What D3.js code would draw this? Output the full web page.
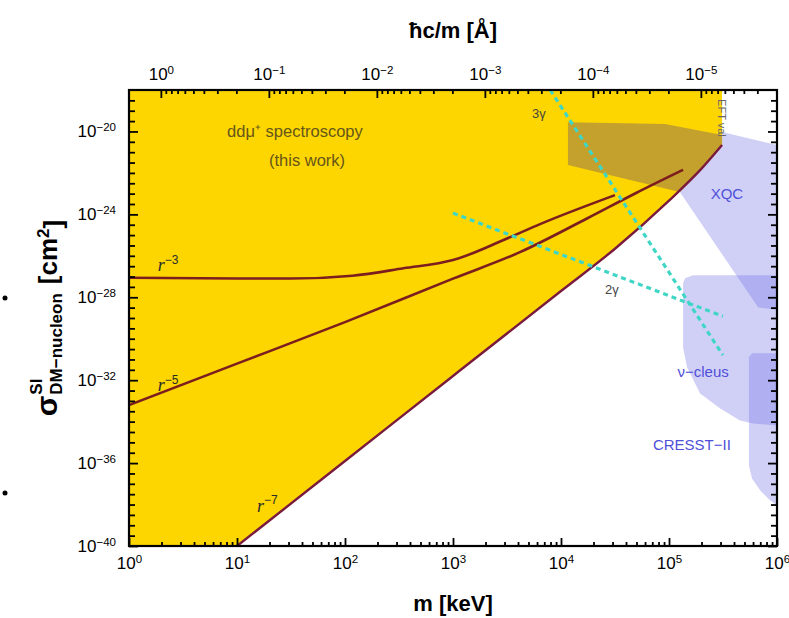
<!DOCTYPE html>
<html>
<head>
<meta charset="utf-8">
<script src="https://cdn.jsdelivr.net/npm/d3@7"></script>
<style>
body { margin: 0; background: #fff; }
svg text { font-family: "Liberation Sans", Arial, Helvetica, sans-serif; }
</style>
</head>
<body>
<svg id="chart" width="789" height="618"></svg>
<script>
// axes: dark matter mass in keV, cross section in cm^2
const massDomain = [1, 1e6];
const sigmaDomain = [1e-40, 1e-18];
const massTicks = [1, 10, 100, 1e3, 1e4, 1e5, 1e6];
const sigmaTicks = [1e-20, 1e-24, 1e-28, 1e-32, 1e-36, 1e-40];
const lengthTicks = [1, 1e-1, 1e-2, 1e-3, 1e-4, 1e-5]; // hbar c / m in Angstrom
const hbarc = 1.973; // keV * Angstrom

// limits from dd mu spectroscopy, [m keV, sigma cm^2]
const r3Curve = [[1, 8.7e-28], [10, 8.0e-28], [31.6, 8.0e-28], [117, 1.1e-27], [347, 2.5e-27],
  [1000, 6.2e-27], [2900, 5.6e-26], [6400, 3.4e-25], [31600, 8.5e-24]];
const r5Curve = [[1, 6.3e-34], [10, 6.3e-32], [100, 6.3e-30], [1000, 7.9e-28], [4170, 1.5e-26],
  [17400, 6.3e-25], [50100, 1.1e-23], [135000, 1.4e-22]];
const r7Curve = [[10, 1e-40], [100, 1.26e-36], [1000, 1.6e-32], [1e4, 2e-28], [31600, 2.2e-26],
  [1e5, 4.6e-24], [2e5, 1.6e-22], [3.1e5, 2.2e-21]];

// other regions
const eftRegion = [[11600, 2.8e-20], [91800, 2.3e-20], [3.1e5, 6.8e-21], [3.1e5, 2.2e-21],
  [2e5, 1.6e-22], [1.26e5, 1.2e-23], [11600, 2.4e-22]];
const xqcRegion = [[3.1e5, 9.3e-21], [1e6, 2.2e-21], [1e6, 2.5e-29], [6.7e5, 3.2e-29],
  [1.26e5, 1.2e-23], [2e5, 1.6e-22], [3.1e5, 2.2e-21]];
const nucleusRegion = [[1.67e5, 1.15e-27], [1e6, 1.15e-27], [1e6, 6.6e-35], [6e5, 8.1e-35],
  [4.54e5, 1.15e-34], [2.96e5, 4.4e-34], [1.94e5, 2.3e-33], [1.47e5, 4.2e-32],
  [1.35e5, 3.8e-31], [1.35e5, 4.8e-28], [1.41e5, 8.3e-28]];
const cresstRegion = [[5.87e5, 2e-31], [1e6, 2e-31], [1e6, 8.9e-39], [8.6e5, 1.6e-38],
  [7e5, 4.8e-38], [5.87e5, 1.8e-37], [5.5e5, 7.6e-37], [5.5e5, 1.26e-31]];
const gamma3Line = [[7940, 1e-18], [3.16e5, 1.6e-31]];
const gamma2Line = [[1000, 1.15e-24], [3.16e5, 1.2e-29]];

// labels placed in data coordinates [m, sigma, text]
const yellowNotes = [[34.4, 5.4e-21, "ddμ⁺ spectroscopy"], [44.5, 2.1e-22, "(this work)"]];
const blueNotes = [[3.44e5, 5.4e-24, "XQC"], [2.07e5, 1.4e-32, "ν−cleus"], [1.63e5, 4.1e-36, "CRESST−II"]];
const powerNotes = [[1.85, 1.8e-27, "−3"], [1.85, 2.9e-33, "−5"], [15.3, 4.6e-39, "−7"]];
const gammaNotes = [[5400, 4.5e-20, "3γ"], [25500, 1.4e-28, "2γ"]];

const svg = d3.select('#chart');
const margin = { top: 90, right: 12, bottom: 72, left: 129 };
const W = 789, H = 618;
const x0 = margin.left, x1 = W - margin.right;
const y0 = H - margin.bottom, y1 = margin.top;

const x = d3.scaleLog().domain(massDomain).range([x0, x1]);
const y = d3.scaleLog().domain(sigmaDomain).range([y0, y1]);
const xTop = d3.scaleLog().domain([hbarc / massDomain[0], hbarc / massDomain[1]]).range([x0, x1]);

svg.append('clipPath').attr('id', 'plot-clip')
  .append('rect').attr('x', x0).attr('y', y1).attr('width', x1 - x0).attr('height', y0 - y1);

const plot = svg.append('g').attr('clip-path', 'url(#plot-clip)');
const line = d3.line().x(d => x(d[0])).y(d => y(d[1]));
const poly = d => line(d) + 'Z';

// blue experimental regions, overlaps get darker
[xqcRegion, nucleusRegion, cresstRegion].forEach(r => {
  plot.append('path').attr('d', poly(r))
    .style('fill', '#6464e6').style('fill-opacity', 0.3).style('stroke', 'none');
});

// yellow excluded region above the r^-7 curve
const last = r7Curve[r7Curve.length - 1];
const yellow = [[massDomain[0], sigmaDomain[0]], ...r7Curve, [last[0], sigmaDomain[1]], [massDomain[0], sigmaDomain[1]]];
plot.append('path').attr('d', poly(yellow)).style('fill', '#fdd600');

plot.append('path').attr('d', poly(eftRegion)).style('fill', '#c4a02c');

// power law curves
const smooth = d3.line().x(d => x(d[0])).y(d => y(d[1])).curve(d3.curveMonotoneX);
plot.append('path').datum(r3Curve).attr('d', smooth)
  .style('fill', 'none').style('stroke', '#7d1e1e').style('stroke-width', 2.6);
plot.append('path').datum(r5Curve).attr('d', smooth)
  .style('fill', 'none').style('stroke', '#7d1e1e').style('stroke-width', 2.6);
plot.append('path').datum(r7Curve).attr('d', smooth)
  .style('fill', 'none').style('stroke', '#7a1a3c').style('stroke-width', 2.4);

// photon decay lines
[gamma3Line, gamma2Line].forEach(g => {
  plot.append('path').datum(g).attr('d', line)
    .style('fill', 'none').style('stroke', '#40d6c6').style('stroke-width', 3.2)
    .style('stroke-dasharray', '5 4');
});

// annotations
yellowNotes.forEach(n => {
  plot.append('text').attr('x', x(n[0])).attr('y', y(n[1]))
    .attr('text-anchor', 'middle').attr('font-size', 16.5).attr('fill', '#66551a').text(n[2]);
});
blueNotes.forEach(n => {
  plot.append('text').attr('x', x(n[0])).attr('y', y(n[1]))
    .attr('text-anchor', 'middle').attr('font-size', 15).attr('fill', '#4f4fd8').text(n[2]);
});
powerNotes.forEach(n => {
  const t = plot.append('text').attr('x', x(n[0])).attr('y', y(n[1]))
    .attr('font-size', 18).attr('fill', '#2a2a2a');
  t.append('tspan').attr('font-style', 'italic').attr('font-family', '"Liberation Serif", serif').text('r');
  t.append('tspan').attr('dy', '-0.6em').attr('font-size', 12).text(n[2]);
});
gammaNotes.forEach(n => {
  plot.append('text').attr('x', x(n[0])).attr('y', y(n[1]))
    .attr('font-size', 13).attr('fill', '#444').text(n[2]);
});
plot.append('text')
  .attr('transform', `translate(${x(3.1e5) - 4},${y(4.5e-20)}) rotate(90)`)
  .attr('text-anchor', 'middle').attr('font-size', 11).attr('fill', '#666').text('EFT val');

// axes
function sup(sel) {
  sel.each(function(d) {
    const e = Math.round(Math.log10(d));
    const t = d3.select(this);
    t.text('10');
    t.append('tspan').attr('dy', '-0.55em').attr('font-size', '0.68em').text(String(e).replace('-', '−'));
  });
}
function minorLog(lo, hi) {
  const out = [];
  for (let k = Math.floor(Math.log10(Math.min(lo, hi))); k <= Math.ceil(Math.log10(Math.max(lo, hi))); k++) {
    for (let j = 2; j <= 9; j++) {
      const v = j * Math.pow(10, k);
      if (v >= Math.min(lo, hi) && v <= Math.max(lo, hi)) out.push(v);
    }
  }
  return out;
}
const sigmaMinor = d3.range(-39.5, -18, 0.5).map(e => Math.pow(10, e)).filter(v => !sigmaTicks.includes(v));

const axes = svg.append('g');
const styleAxis = g => {
  g.select('.domain').remove();
  g.selectAll('line').style('stroke', '#000').style('stroke-width', 1.8);
  g.selectAll('text').attr('fill', '#000').style('font-size', '17px').style('font-family', '"Liberation Sans", Arial, sans-serif');
};

axes.append('g').attr('transform', `translate(0,${y0})`)
  .call(d3.axisBottom(x).tickValues(massTicks).tickSizeInner(-8).tickSizeOuter(0).tickPadding(11))
  .call(styleAxis).call(g => g.selectAll('text').call(sup));
axes.append('g').attr('transform', `translate(0,${y0})`)
  .call(d3.axisBottom(x).tickValues(minorLog(1, 1e6)).tickSize(-4).tickFormat(''))
  .call(styleAxis);

axes.append('g').attr('transform', `translate(0,${y1})`)
  .call(d3.axisTop(xTop).tickValues(lengthTicks).tickSizeInner(-8).tickSizeOuter(0).tickPadding(10))
  .call(styleAxis).call(g => g.selectAll('text').call(sup));
axes.append('g').attr('transform', `translate(0,${y1})`)
  .call(d3.axisTop(xTop).tickValues(minorLog(hbarc / 1e6, hbarc)).tickSize(-4).tickFormat(''))
  .call(styleAxis);

axes.append('g').attr('transform', `translate(${x0},0)`)
  .call(d3.axisLeft(y).tickValues(sigmaTicks).tickSizeInner(-9).tickSizeOuter(0).tickPadding(13))
  .call(styleAxis).call(g => g.selectAll('text').call(sup));
axes.append('g').attr('transform', `translate(${x0},0)`)
  .call(d3.axisLeft(y).tickValues(sigmaMinor).tickSize(-6).tickFormat(''))
  .call(styleAxis);
axes.append('g').attr('transform', `translate(${x1},0)`)
  .call(d3.axisRight(y).tickValues(sigmaTicks).tickSize(-9).tickFormat(''))
  .call(styleAxis);
axes.append('g').attr('transform', `translate(${x1},0)`)
  .call(d3.axisRight(y).tickValues(sigmaMinor).tickSize(-6).tickFormat(''))
  .call(styleAxis);

svg.append('rect').attr('x', x0).attr('y', y1).attr('width', x1 - x0).attr('height', y0 - y1)
  .style('fill', 'none').style('stroke', '#000').style('stroke-width', 2.2);

// axis titles
svg.append('text').attr('x', (x0 + x1) / 2).attr('y', 38).attr('text-anchor', 'middle')
  .attr('font-size', 22).attr('font-weight', 'bold').text('ħc/m [Å]');
svg.append('text').attr('x', (x0 + x1) / 2).attr('y', 611).attr('text-anchor', 'middle')
  .attr('font-size', 22).attr('font-weight', 'bold').text('m [keV]');

const yTitle = svg.append('g').attr('transform', `translate(57,${(y0 + y1) / 2}) rotate(-90)`);
const inner = yTitle.append('g');
const tSig = inner.append('text').attr('font-size', 30).attr('font-weight', 'bold').text('σ');
const wSig = tSig.node().getComputedTextLength() + 1;
inner.append('text').attr('x', wSig).attr('y', -15).attr('font-size', 17).attr('font-weight', 'bold').text('SI');
const tSub = inner.append('text').attr('x', wSig).attr('y', 5).attr('font-size', 17).attr('font-weight', 'bold').text('DM−nucleon');
const wSub = tSub.node().getComputedTextLength();
const tUnit = inner.append('text').attr('x', wSig + wSub + 9).attr('font-size', 26).attr('font-weight', 'bold');
tUnit.append('tspan').text('[cm');
tUnit.append('tspan').attr('dy', '-0.5em').attr('font-size', 17).text('2');
tUnit.append('tspan').attr('dy', '0.5em').text(']');
const total = wSig + wSub + 9 + tUnit.node().getComputedTextLength();
inner.attr('transform', `translate(${-total / 2},0)`);

// stray bullet marks at the left edge of the original figure
svg.selectAll('circle.bullet').data([298, 493]).enter().append('circle')
  .attr('class', 'bullet').attr('cx', 5).attr('cy', d => d).attr('r', 2.5).style('fill', '#000');
</script>
</body>
</html>
